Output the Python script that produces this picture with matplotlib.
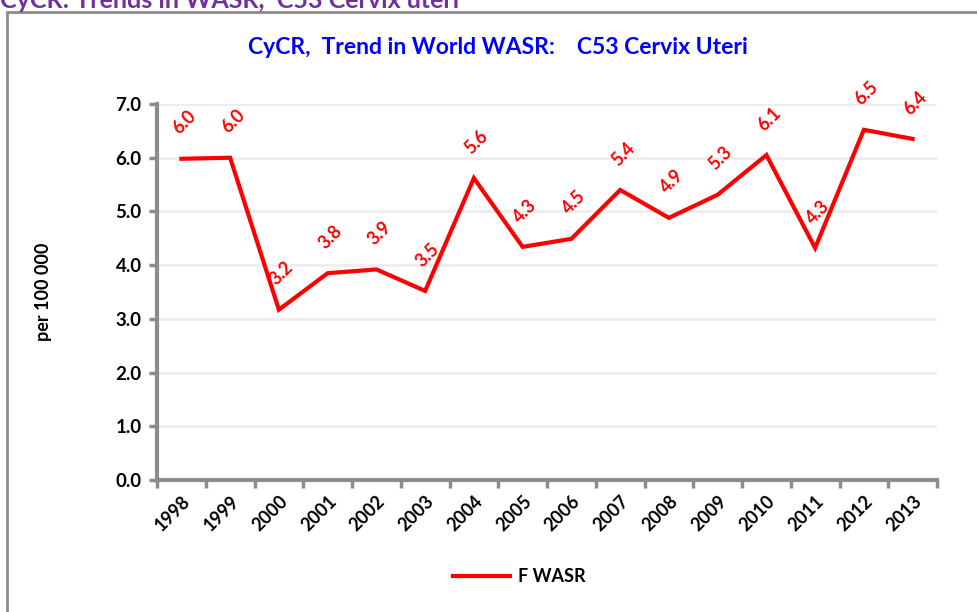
import numpy as np
import matplotlib.pyplot as plt
from matplotlib.patches import Rectangle

plt.rcParams['font.family'] = ['Lato', 'DejaVu Sans']

# Données
annees = ['1998', '1999', '2000', '2001', '2002', '2003', '2004', '2005',
          '2006', '2007', '2008', '2009', '2010', '2011', '2012', '2013']
wasr = [5.98, 6.0, 3.17, 3.85, 3.92, 3.52, 5.62, 4.34,
        4.49, 5.40, 4.88, 5.31, 6.05, 4.32, 6.52, 6.35]
etiquettes = ['6.0', '6.0', '3.2', '3.8', '3.9', '3.5', '5.6', '4.3',
              '4.5', '5.4', '4.9', '5.3', '6.1', '4.3', '6.5', '6.4']
yticks = np.arange(0, 7.1, 1.0)

W, H = 977, 612
fig = plt.figure(figsize=(W / 100, H / 100), dpi=100)
ax = fig.add_axes([157 / W, 1 - 480 / H, 780 / W, 376 / H])

# cadre gris de la figure
fig.patches.append(Rectangle((7 / W, -0.1), 1.1, 1 - 12 / H + 0.1, transform=fig.transFigure,
                             fill=False, edgecolor='#8c8c8c', linewidth=2))

x = np.arange(len(annees))
ligne, = ax.plot(x, wasr, color='#ff0000', linewidth=3, label='F WASR', solid_joinstyle='miter')

for xi, v, t in zip(x, wasr, etiquettes):
    ax.annotate(t, (xi, v), xytext=(2, 26), textcoords='offset points', rotation=45,
                ha='center', va='center', color='#ff0000', fontsize=13, fontweight='bold')

ax.set_xlim(-0.5, len(annees) - 0.5)
ax.set_ylim(0, 7)
ax.set_yticks(yticks)
ax.set_yticklabels([f'{v:.1f}' for v in yticks], fontsize=13.5, fontweight='bold')
ax.set_xticks(np.arange(-0.5, len(annees), 1.0))
ax.set_xticklabels([])
ax.set_xticks(x, minor=True)
ax.set_xticklabels(annees, minor=True, rotation=45, ha='right', rotation_mode='anchor',
                   fontsize=13, fontweight='bold')
ax.tick_params(axis='x', which='minor', length=0, pad=9)
ax.tick_params(axis='x', which='major', length=6, width=2.5, color='#8c8c8c')
ax.tick_params(axis='y', length=6, width=2.5, color='#8c8c8c', pad=5)

ax.grid(axis='y', color='#eeeeee', linewidth=2)
ax.set_axisbelow(True)
for s in ['top', 'right']:
    ax.spines[s].set_visible(False)
for s in ['left', 'bottom']:
    ax.spines[s].set_color('#8c8c8c')
    ax.spines[s].set_linewidth(3)

ax.set_ylabel('per 100 000', fontsize=13, fontweight='bold', labelpad=46)

fig.text(498 / W, 1 - 47 / H, 'CyCR,  Trend in World WASR:    C53 Cervix Uteri', color='#0000ff',
         fontsize=16.5, fontweight='bold', ha='center', va='center')
fig.text(0 / W, 1 - 0 / H, 'CyCR: Trends in WASR,  C53 Cervix uteri', color='#7030a0',
         fontsize=18, fontweight='bold', ha='left', va='center')

fig.legend(handles=[ligne], loc='center', bbox_to_anchor=(519 / W, 1 - 577 / H), frameon=False,
           prop={'weight': 'bold', 'size': 13}, handlelength=3.2, handletextpad=0.4)

fig.savefig('out.png', dpi=100)
